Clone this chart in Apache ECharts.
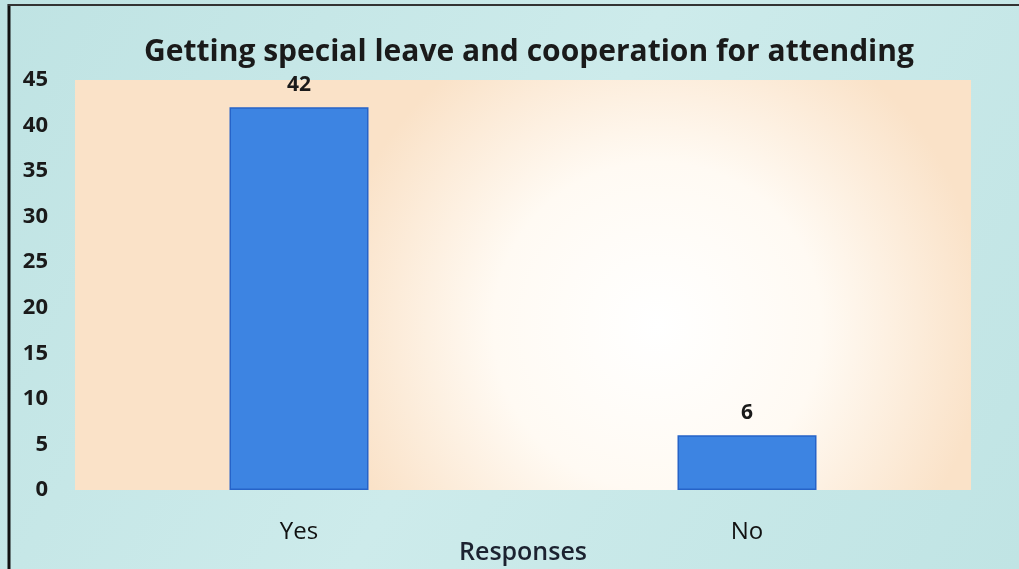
<!DOCTYPE html>
<html>
<head>
<meta charset="utf-8">
<script src="https://cdn.jsdelivr.net/npm/echarts@6/dist/echarts.min.js"></script>
<style>html,body{margin:0;padding:0;}#main{width:1019px;height:569px;}</style>
</head>
<body>
<div id="main"></div>
<script>
const titleText = 'Getting special leave and cooperation for attending';
const categories = ['Yes', 'No'];
const values = [42, 6];
const axisName = 'Responses';
const yMin = 0, yMax = 45, yStep = 5;

const chart = echarts.init(document.getElementById('main'));
chart.setOption({
  backgroundColor: {
    type: 'linear', x: 0, y: 0, x2: 1, y2: 1,
    colorStops: [
      {offset: 0, color: '#bfe3e3'},
      {offset: 0.5, color: '#cdebeb'},
      {offset: 1, color: '#c0e4e4'}
    ]
  },
  title: {
    text: titleText,
    left: 524, textAlign: 'center', top: 32,
    textStyle: {fontFamily: 'Open Sans', fontWeight: 'bold', fontSize: 30, color: '#1a1a1a'}
  },
  grid: {
    left: 75, right: 48, top: 80, bottom: 79,
    outerBoundsMode: 'none',
    show: true, borderWidth: 0,
    backgroundColor: {
      type: 'radial', x: 0.65, y: 0.6, r: 0.8,
      colorStops: [
        {offset: 0, color: '#ffffff'},
        {offset: 0.5, color: '#fffaf3'},
        {offset: 1, color: '#fae2c8'}
      ]
    }
  },
  xAxis: {
    type: 'category', data: categories,
    axisLine: {show: false}, axisTick: {show: false},
    axisLabel: {fontFamily: 'Open Sans', fontSize: 24, color: '#111', margin: 30},
    name: axisName, nameLocation: 'middle', nameGap: 50, nameMoveOverlap: false,
    nameTextStyle: {fontFamily: 'Open Sans', fontWeight: 600, fontSize: 25, color: '#1c2230'}
  },
  yAxis: {
    type: 'value', min: yMin, max: yMax, interval: yStep,
    axisLine: {show: false}, axisTick: {show: false}, splitLine: {show: false},
    axisLabel: {fontFamily: 'Open Sans', fontWeight: 'bold', fontSize: 22, color: '#1a1a1a', margin: 27}
  },
  series: [{
    type: 'bar', data: values, barWidth: 139,
    itemStyle: {color: '#3d84e2', borderColor: '#2663c8', borderWidth: 1.5},
    label: {show: true, position: 'top', distance: 12, fontFamily: 'Open Sans', fontWeight: 'bold', fontSize: 21, color: '#1a1a1a'}
  }],
  graphic: [
    {type: 'line', shape: {x1: 9, y1: 4, x2: 9, y2: 569}, style: {stroke: '#111', lineWidth: 3}},
    {type: 'line', shape: {x1: 8, y1: 5, x2: 1019, y2: 5}, style: {stroke: '#333', lineWidth: 2}}
  ]
});
</script>
</body>
</html>
